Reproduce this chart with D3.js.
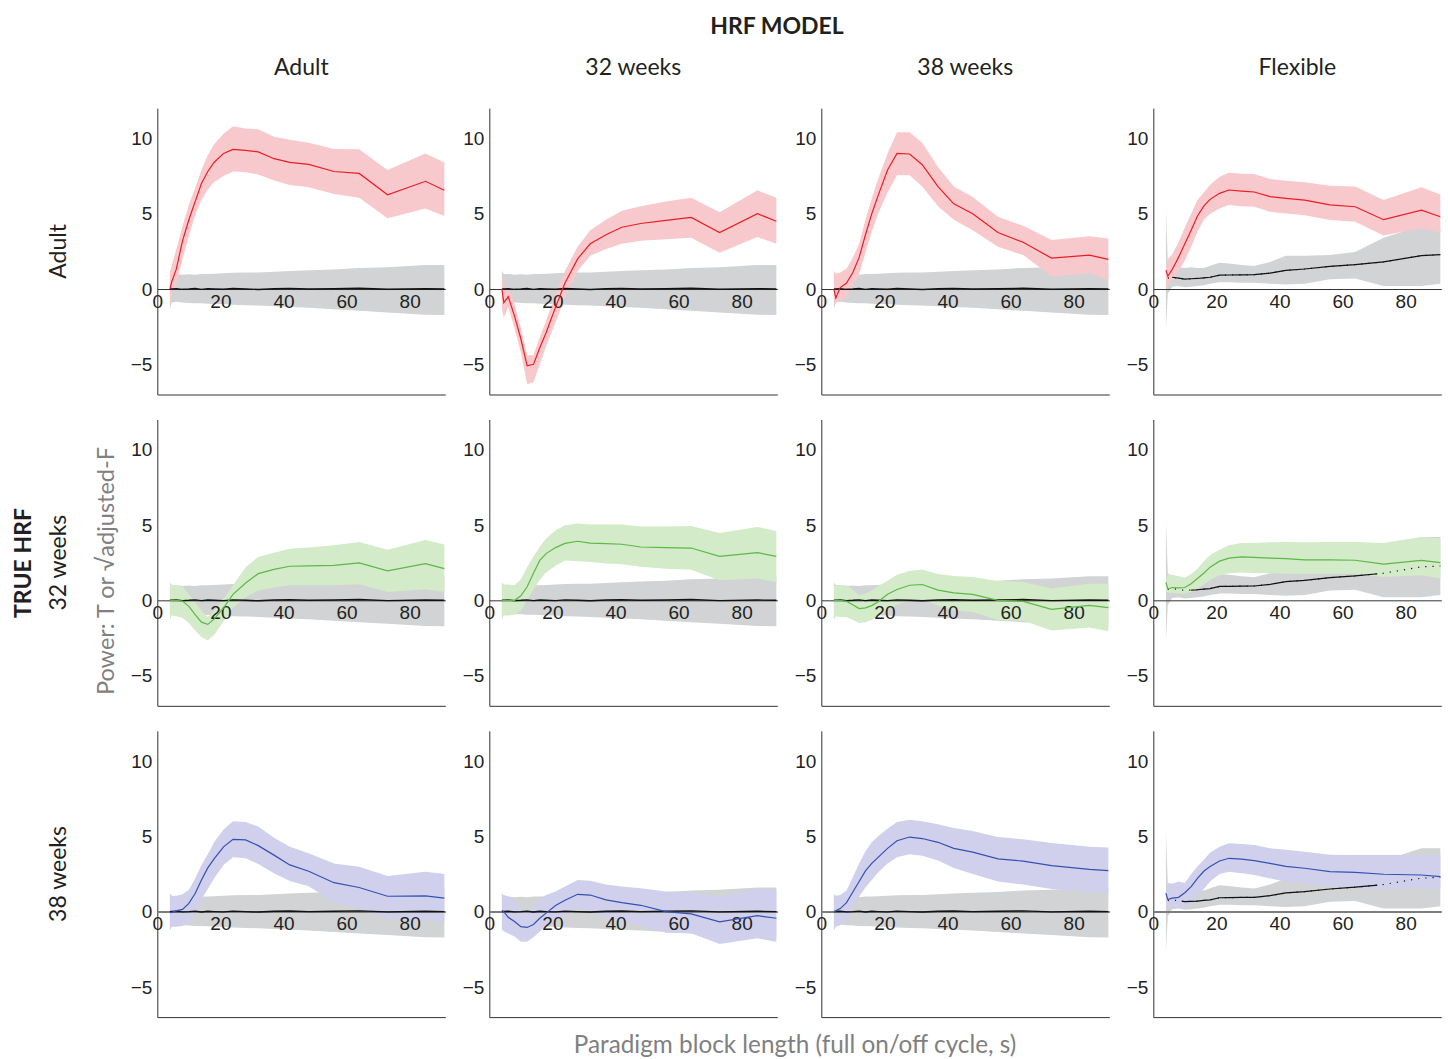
<!DOCTYPE html>
<html>
<head>
<meta charset="utf-8">
<script src="https://cdn.jsdelivr.net/npm/d3@7"></script>
<style>
  body { margin: 0; background: #fff; }
  svg { display: block; }
</style>
</head>
<body>
<svg id="chart" width="1448" height="1059"></svg>
<script>
// ---- axis categories and ticks ----
const rowLabels = ["Adult", "32 weeks", "38 weeks"];       // true HRF
const colLabels = ["Adult", "32 weeks", "38 weeks", "Flexible"]; // HRF model
const xTicks = [0, 20, 40, 60, 80];
const yTicks = [-5, 0, 5, 10];

// paradigm block lengths (s) at which power was evaluated
const blockLength = [4, 4.6, 6, 8, 10, 12, 14, 16, 18, 21, 24, 28, 32, 37, 42, 48, 56, 64, 73, 85, 91];

// ---- null distribution (fixed-shape models) ----
const nullMean  = [0, 0.01, 0.02, -0.02, 0, 0.03, -0.02, 0.02, 0, -0.02, 0.03, 0, -0.03, 0.02, 0.04, 0, 0.02, 0.05, -0.02, 0.02, 0];
const nullUpper = [1.2, 1.0, 1.0, 0.95, 0.98, 0.95, 1.0, 1.0, 1.02, 1.05, 1.08, 1.1, 1.1, 1.15, 1.2, 1.25, 1.3, 1.4, 1.45, 1.6, 1.6];
const nullLower = [-1.3, -0.9, -0.85, -0.9, -0.92, -0.95, -0.95, -0.97, -1.0, -1.0, -1.05, -1.08, -1.1, -1.15, -1.2, -1.25, -1.35, -1.45, -1.55, -1.7, -1.72];

// ---- null distribution (flexible model) ----
const flexNullMean  = [null, 0.72, 0.78, 0.72, 0.66, 0.68, 0.7, 0.74, 0.78, 0.92, 0.93, 0.94, 0.95, 1.06, 1.24, 1.33, 1.5, 1.62, 1.8, 2.22, 2.28];
const flexNullUpper = [5.3, 1.8, 1.6, 1.45, 1.4, 1.45, 1.4, 1.4, 1.55, 1.75, 1.7, 1.6, 1.53, 1.8, 2.2, 2.2, 2.26, 2.45, 3.4, 4.2, 4.2];
const flexNullLower = [-2.7, -0.3, 0.15, 0.2, 0.12, 0.15, 0.2, 0.25, 0.35, 0.45, 0.45, 0.42, 0.42, 0.35, 0.3, 0.35, 0.65, 0.7, 0.2, 0.2, 0.35];
// block-length range over which the flexible null mean is drawn solid (per true HRF row)
const flexSolidFrom = [6, 12, 9];
const flexSolidTo   = [91, 71, 71];

// ---- true HRF: Adult ----
const adult_adultMean  = [0, 0.5, 1.3, 3.2, 4.6, 5.8, 7.0, 7.8, 8.4, 9.0, 9.27, 9.2, 9.1, 8.65, 8.4, 8.27, 7.8, 7.67, 6.25, 7.15, 6.55];
const adult_adultUpper = [1.1, 1.6, 2.6, 4.2, 5.6, 6.7, 7.9, 8.9, 9.6, 10.3, 10.8, 10.65, 10.6, 10.1, 9.9, 9.7, 9.3, 9.27, 7.9, 9.0, 8.4];
const adult_adultLower = [-1.2, -0.3, 0.3, 2.0, 3.5, 4.9, 5.9, 6.6, 7.1, 7.5, 7.8, 7.75, 7.6, 7.2, 6.9, 6.75, 6.3, 6.05, 4.7, 5.35, 4.85];

const adult_w32Mean  = [0, -0.9, -0.5, -1.8, -3.3, -5.1, -5.0, -3.9, -2.9, -1.2, 0.4, 2.0, 3.0, 3.6, 4.1, 4.35, 4.55, 4.75, 3.75, 5.0, 4.5];
const adult_w32Upper = [1.2, 0.0, 0.2, -1.0, -2.6, -4.4, -4.4, -3.2, -2.1, -0.3, 1.2, 2.8, 3.9, 4.6, 5.2, 5.5, 5.8, 6.05, 5.1, 6.55, 6.05];
const adult_w32Lower = [-1.3, -1.9, -1.2, -2.6, -4.2, -6.3, -6.2, -5.0, -3.8, -2.2, -0.6, 1.2, 2.2, 2.65, 3.0, 3.2, 3.3, 3.4, 2.4, 3.45, 3.0];

const adult_w38Mean  = [0, -0.6, 0.1, 0.4, 1.1, 2.1, 3.6, 5.0, 6.2, 7.9, 9.0, 8.96, 8.25, 6.8, 5.65, 5.0, 3.75, 3.1, 2.05, 2.25, 1.97];
const adult_w38Upper = [1.2, 1.0, 1.1, 1.35, 2.1, 3.0, 4.6, 6.0, 7.3, 9.0, 10.4, 10.4, 9.7, 8.1, 6.8, 6.1, 4.8, 4.2, 3.25, 3.5, 3.35];
const adult_w38Lower = [-1.2, -0.9, -0.8, -0.5, 0.2, 1.0, 2.4, 3.8, 5.0, 6.4, 7.55, 7.55, 6.8, 5.5, 4.6, 3.9, 2.8, 2.25, 0.85, 1.05, 0.6];

const adult_flexMean  = [1.25, 0.85, 1.3, 2.1, 3.0, 3.9, 4.85, 5.5, 5.95, 6.35, 6.57, 6.5, 6.44, 6.13, 6.02, 5.9, 5.58, 5.46, 4.6, 5.24, 4.8];
const adult_flexUpper = [1.3, 2.0, 2.3, 3.1, 4.1, 5.0, 5.9, 6.4, 6.9, 7.45, 7.72, 7.65, 7.63, 7.3, 7.19, 7.08, 6.86, 6.8, 5.9, 6.75, 6.28];
const adult_flexLower = [0.0, 0.25, 0.55, 1.2, 1.9, 2.8, 3.8, 4.6, 5.0, 5.35, 5.58, 5.5, 5.46, 5.13, 5.02, 4.9, 4.58, 4.47, 3.55, 4.03, 3.75];

// ---- true HRF: 32 weeks ----
const w32_adultMean  = [0, 0, 0, -0.05, -0.4, -0.95, -1.45, -1.6, -1.25, -0.5, 0.4, 1.15, 1.77, 2.05, 2.26, 2.28, 2.32, 2.48, 1.95, 2.43, 2.1];
const w32_adultUpper = [1.1, 1.0, 1.0, 0.9, 0.4, -0.1, -0.7, -1.1, -0.7, 0.1, 1.0, 2.2, 2.88, 3.15, 3.43, 3.5, 3.65, 3.87, 3.36, 4.0, 3.7];
const w32_adultLower = [-1.2, -1.0, -1.05, -1.15, -1.5, -2.0, -2.45, -2.65, -2.3, -1.4, -0.5, 0.2, 0.66, 0.85, 1.0, 1.0, 1.0, 1.06, 0.55, 0.73, 0.55];

const w32_w32Mean  = [0, 0, 0, 0, 0.3, 0.9, 1.8, 2.65, 3.1, 3.5, 3.78, 3.92, 3.8, 3.76, 3.72, 3.54, 3.5, 3.47, 2.92, 3.16, 2.92];
const w32_w32Upper = [1.15, 1.05, 1.05, 1.0, 1.4, 2.2, 2.9, 3.55, 4.1, 4.65, 4.98, 5.09, 5.04, 5.04, 5.04, 4.9, 4.9, 4.93, 4.47, 4.87, 4.6];
const w32_w32Lower = [-1.1, -1.0, -1.0, -0.95, -0.7, 0.0, 0.7, 1.35, 1.85, 2.3, 2.65, 2.6, 2.54, 2.45, 2.39, 2.22, 2.1, 2.03, 1.33, 1.44, 1.22];

const w32_w38Mean  = [0, 0, 0, -0.07, -0.3, -0.55, -0.5, -0.35, -0.1, 0.4, 0.72, 1.0, 1.05, 0.68, 0.49, 0.4, 0.0, -0.07, -0.6, -0.33, -0.49];
const w32_w38Upper = [1.1, 0.95, 1.0, 1.0, 0.7, 0.33, 0.45, 0.65, 0.95, 1.3, 1.7, 1.95, 2.04, 1.75, 1.62, 1.55, 1.28, 1.22, 0.78, 1.1, 1.1];
const w32_w38Lower = [-1.3, -1.05, -1.1, -1.1, -1.3, -1.5, -1.45, -1.3, -1.0, -0.6, -0.3, 0.0, 0.04, -0.35, -0.66, -0.77, -1.3, -1.35, -2.0, -1.8, -2.05];

const w32_flexMean  = [1.2, 0.75, 0.85, 0.82, 0.85, 1.1, 1.45, 1.8, 2.2, 2.6, 2.8, 2.88, 2.85, 2.8, 2.77, 2.68, 2.68, 2.66, 2.4, 2.65, 2.5];
const w32_flexUpper = [1.3, 1.7, 1.7, 1.6, 1.5, 1.75, 2.1, 2.6, 3.0, 3.35, 3.65, 3.8, 3.8, 3.85, 3.87, 3.85, 3.87, 3.87, 3.8, 4.2, 4.1];
const w32_flexLower = [0.6, 0.5, 0.5, 0.45, 0.45, 0.55, 0.8, 1.05, 1.35, 1.66, 1.8, 1.84, 1.82, 1.8, 1.77, 1.77, 1.77, 1.77, 1.55, 1.66, 1.44];

// ---- true HRF: 38 weeks ----
const w38_adultMean  = [-0.07, -0.05, 0.05, 0.15, 0.55, 1.2, 2.1, 2.9, 3.5, 4.3, 4.8, 4.76, 4.38, 3.75, 3.1, 2.68, 1.92, 1.6, 1.02, 1.04, 0.9];
const w38_adultUpper = [1.2, 1.05, 1.05, 1.15, 1.45, 2.2, 3.1, 3.8, 4.6, 5.45, 6.0, 5.95, 5.65, 4.9, 4.3, 3.87, 3.2, 2.98, 2.37, 2.65, 2.5];
const w38_adultLower = [-1.2, -1.0, -1.0, -0.95, -0.7, -0.2, 0.8, 1.5, 2.2, 3.1, 3.6, 3.55, 3.16, 2.55, 2.03, 1.68, 0.6, 0.22, -0.5, -0.55, -0.66];

const w38_w32Mean  = [0.07, 0.0, -0.38, -0.65, -1.0, -1.05, -0.85, -0.44, -0.1, 0.4, 0.75, 1.15, 1.1, 0.78, 0.6, 0.42, 0.0, -0.15, -0.68, -0.27, -0.44];
const w38_w32Upper = [1.2, 1.1, 1.0, 0.7, 0.1, 0.0, 0.35, 0.8, 1.1, 1.33, 1.66, 2.1, 2.05, 1.8, 1.66, 1.55, 1.33, 1.28, 1.0, 1.5, 1.44];
const w38_w32Lower = [-1.2, -1.3, -1.45, -1.65, -2.0, -2.0, -1.7, -1.33, -0.9, -0.45, -0.22, 0.2, 0.0, -0.45, -0.66, -0.95, -1.4, -1.44, -2.15, -1.77, -2.0];

const w38_w38Mean  = [0.0, 0.05, 0.2, 0.6, 1.3, 2.0, 2.7, 3.2, 3.6, 4.2, 4.7, 4.95, 4.85, 4.6, 4.2, 3.95, 3.5, 3.35, 3.05, 2.8, 2.72];
const w38_w38Upper = [1.1, 1.05, 1.1, 1.4, 2.3, 3.2, 4.0, 4.6, 5.0, 5.5, 5.95, 6.1, 6.0, 5.8, 5.55, 5.35, 4.95, 4.8, 4.55, 4.3, 4.25];
const w38_w38Lower = [-1.2, -1.0, -0.9, -0.5, 0.3, 1.0, 1.6, 2.1, 2.6, 3.2, 3.6, 3.8, 3.7, 3.4, 2.9, 2.5, 2.0, 1.8, 1.5, 1.3, 1.25];

const w38_flexMean  = [1.22, 0.8, 0.9, 0.95, 1.25, 1.66, 2.2, 2.68, 3.0, 3.36, 3.54, 3.48, 3.38, 3.2, 3.0, 2.88, 2.65, 2.6, 2.48, 2.43, 2.32];
const w38_flexUpper = [1.3, 1.9, 1.85, 2.0, 1.9, 2.5, 3.0, 3.45, 3.9, 4.3, 4.53, 4.48, 4.42, 4.2, 4.1, 3.98, 3.78, 3.76, 3.76, 3.76, 3.76];
const w38_flexLower = [0.4, 0.3, 0.3, 0.25, 0.25, 0.6, 1.1, 1.5, 2.0, 2.5, 2.65, 2.55, 2.43, 2.2, 2.0, 1.88, 1.66, 1.55, 1.48, 1.55, 1.48];

// power curves, one row per true HRF, one column per model
const powerMean = [
  [adult_adultMean, adult_w32Mean, adult_w38Mean, adult_flexMean],
  [w32_adultMean, w32_w32Mean, w32_w38Mean, w32_flexMean],
  [w38_adultMean, w38_w32Mean, w38_w38Mean, w38_flexMean]
];
const powerUpper = [
  [adult_adultUpper, adult_w32Upper, adult_w38Upper, adult_flexUpper],
  [w32_adultUpper, w32_w32Upper, w32_w38Upper, w32_flexUpper],
  [w38_adultUpper, w38_w32Upper, w38_w38Upper, w38_flexUpper]
];
const powerLower = [
  [adult_adultLower, adult_w32Lower, adult_w38Lower, adult_flexLower],
  [w32_adultLower, w32_w32Lower, w32_w38Lower, w32_flexLower],
  [w38_adultLower, w38_w32Lower, w38_w38Lower, w38_flexLower]
];

// ---- styling ----
const rowLine = ["#ec1c24", "#5cb847", "#3451b2"];
const rowBand = ["#f8c9cc", "#d3ebc8", "#d0d0ec"];
const nullBand = "#d1d3d4";
const axisColor = "#333";
const zeroColor = ["#333", "#333", "#7d7d7d"];
const zeroWidth = [1, 1, 2];

const svg = d3.select("#chart");
svg.append("rect").attr("width", 1448).attr("height", 1059).attr("fill", "#fff");

const W = 288, H = 286.3;
const x = d3.scaleLinear().domain([0, 91.3]).range([0, W]);
const y = d3.scaleLinear().domain([-7, 12]).range([H, 0]);
const colLeft = c => 157.3 + 332 * c;
const rowTop = r => 108.2 + 311.3 * r;

const labelFont = "Lato, 'Open Sans', sans-serif";
const tickFont = "'Liberation Sans', Arial, sans-serif";
const tickSize = 19;

function rows(mean, upper, lower) {
  return blockLength.map((b, i) => ({ b, m: mean[i], hi: upper[i], lo: lower[i] }));
}
const band = d3.area().x(d => x(d.b)).y0(d => y(d.lo)).y1(d => y(d.hi));
const line = d3.line().defined(d => d.m != null).x(d => x(d.b)).y(d => y(d.m));

rowLabels.forEach((rl, r) => {
  colLabels.forEach((cl, c) => {
    const g = svg.append("g").attr("transform", `translate(${colLeft(c)},${rowTop(r)})`);
    const flexible = c === 3;
    const nul = flexible ? rows(flexNullMean, flexNullUpper, flexNullLower)
                         : rows(nullMean, nullUpper, nullLower);
    const pw = rows(powerMean[r][c], powerUpper[r][c], powerLower[r][c]);

    // null band, then power band
    g.append("path").datum(nul).attr("d", band).attr("fill", nullBand);
    g.append("path").datum(pw).attr("d", band).attr("fill", rowBand[r]);

    // left spine with y tick labels
    const ya = g.append("g").call(d3.axisLeft(y).tickValues(yTicks).tickSize(0).tickPadding(5));
    ya.select(".domain").attr("stroke", axisColor).attr("stroke-width", 1);
    ya.selectAll("text").attr("font-family", tickFont).attr("font-size", tickSize).attr("fill", "#222");

    // bottom spine
    const xb = g.append("g").attr("transform", `translate(0,${y(-7)})`)
      .call(d3.axisBottom(x).tickValues([]).tickSizeOuter(0));
    xb.select(".domain").attr("stroke", axisColor).attr("stroke-width", 1);

    // x axis through the origin
    const xa = g.append("g").attr("transform", `translate(0,${y(0)})`)
      .call(d3.axisBottom(x).tickValues(xTicks).tickSize(0).tickSizeOuter(0).tickPadding(5));
    xa.select(".domain").attr("stroke", zeroColor[r]).attr("stroke-width", zeroWidth[r]);
    xa.selectAll("text").attr("font-family", tickFont).attr("font-size", tickSize).attr("fill", "#222");

    // null mean
    if (flexible) {
      g.append("path").datum(nul).attr("d", line).attr("fill", "none")
        .attr("stroke", "#111").attr("stroke-width", 1.2).attr("stroke-dasharray", "1.2,6");
      const clipId = `solid-${r}`;
      g.append("clipPath").attr("id", clipId).append("rect")
        .attr("x", x(flexSolidFrom[r])).attr("y", 0)
        .attr("width", x(flexSolidTo[r]) - x(flexSolidFrom[r])).attr("height", H);
      g.append("path").datum(nul).attr("d", line).attr("fill", "none")
        .attr("clip-path", `url(#${clipId})`)
        .attr("stroke", "#111").attr("stroke-width", 1.2);
    } else {
      g.append("path").datum(nul).attr("d", line).attr("fill", "none")
        .attr("stroke", "#111").attr("stroke-width", 1.4);
    }

    // power mean
    g.append("path").datum(pw).attr("d", line).attr("fill", "none")
      .attr("stroke", rowLine[r]).attr("stroke-width", 1.2);
  });
});

// ---- titles ----
svg.append("text").attr("x", 777).attr("y", 34).attr("text-anchor", "middle")
  .attr("font-family", labelFont).attr("font-weight", 700).attr("font-size", 23)
  .attr("fill", "#231f20").text("HRF MODEL");

colLabels.forEach((cl, c) => {
  svg.append("text").attr("x", colLeft(c) + W / 2).attr("y", 75).attr("text-anchor", "middle")
    .attr("font-family", labelFont).attr("font-size", 23).attr("fill", "#231f20").text(cl);
});

rowLabels.forEach((rl, r) => {
  svg.append("text").attr("transform", `translate(66,${rowTop(r) + H / 2}) rotate(-90)`)
    .attr("text-anchor", "middle")
    .attr("font-family", labelFont).attr("font-size", 23).attr("fill", "#231f20").text(rl);
});

svg.append("text").attr("transform", `translate(31,563) rotate(-90)`).attr("text-anchor", "middle")
  .attr("font-family", labelFont).attr("font-weight", 700).attr("font-size", 23)
  .attr("fill", "#231f20").text("TRUE HRF");

svg.append("text").attr("transform", `translate(114,571) rotate(-90)`).attr("text-anchor", "middle")
  .attr("font-family", labelFont).attr("font-size", 23.5).attr("fill", "#808080")
  .text("Power: T or \u221Aadjusted-F");

svg.append("text").attr("x", 795).attr("y", 1053).attr("text-anchor", "middle")
  .attr("font-family", labelFont).attr("font-size", 24.3).attr("fill", "#808080")
  .text("Paradigm block length (full on/off cycle, s)");
</script>
</body>
</html>
